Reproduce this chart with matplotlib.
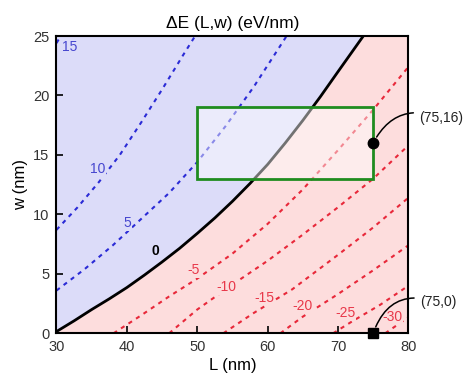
import matplotlib
matplotlib.use("Agg")
import matplotlib.pyplot as plt
from matplotlib.patches import Rectangle

plt.rcParams['font.family'] = ['Liberation Sans', 'DejaVu Sans']

# ---- data ----
# zero contour (boundary between positive / negative region)
zero_L = [30, 32.5, 35, 37.5, 40, 42.5, 45, 47.5, 50, 52.5, 55, 57.5, 60, 62.5, 65, 67.5, 70, 73.6]
zero_w = [0.15, 1.05, 2.0, 2.9, 3.85, 4.9, 6.0, 7.15, 8.4, 9.7, 11.1, 12.6, 14.2, 16.0, 17.9, 19.9, 22.0, 25]

# positive contours (blue)
c15_L = [30, 30.6]
c15_w = [24.4, 25]
c10_L = [30, 33, 36, 39, 42, 45, 48, 49.7]
c10_w = [8.7, 10.6, 12.7, 15.0, 17.7, 20.5, 23.4, 25]
c5_L = [30, 34, 38, 42, 46, 50, 54, 58, 62.7]
c5_w = [3.6, 5.4, 7.4, 9.6, 11.8, 14.4, 17.4, 20.7, 25]

# negative contours (red)
m5_L = [38.1, 42, 46, 50, 55, 60, 65, 70, 75, 80]
m5_w = [0, 1.5, 3.1, 4.6, 6.7, 9.2, 12.1, 15.4, 18.8, 22.4]
m10_L = [46, 50, 55, 60, 65, 70, 75, 80]
m10_w = [0, 2.0, 4.1, 6.1, 8.3, 10.6, 13.0, 15.8]
m15_L = [53.7, 58, 63.5, 70, 75, 80]
m15_w = [0, 1.7, 3.7, 6.6, 8.9, 11.4]
m20_L = [61.8, 65, 70, 75, 80]
m20_w = [0, 1.4, 3.3, 5.3, 7.4]
m25_L = [69.3, 72, 76, 80]
m25_w = [0, 1.0, 2.4, 4.0]
m30_L = [76.7, 80]
m30_w = [0, 1.35]

# contour labels: text, L, w
blue_labels = ["15", "10", "5"]
blue_lab_L = [31.9, 35.9, 40.1]
blue_lab_w = [24.05, 13.8, 9.25]
zero_label = "0"
zero_lab_L = 44.1
zero_lab_w = 6.9
red_labels = ["-5", "-10", "-15", "-20", "-25", "-30"]
red_lab_L = [49.5, 54.2, 59.6, 65.0, 71.0, 77.7]
red_lab_w = [5.3, 3.9, 3.0, 2.3, 1.7, 1.4]

# highlighted window
rect_L = [50, 75]
rect_w = [13, 19]

# marked points
pt_circle = (75, 16)
pt_square = (75, 0)

x_ticks = [30, 40, 50, 60, 70, 80]
y_ticks = [0, 5, 10, 15, 20, 25]

# ---- styles ----
blue_fill = '#dcdcf9'
pink_fill = '#fddddd'
blue_line = '#2b2bd6'
red_line = '#e8283a'
blue_txt = '#4646cf'
red_txt = '#e8384a'

fig = plt.figure(figsize=(4.63, 3.79), dpi=100)
ax = fig.add_axes([0.122, 0.1205, 0.760, 0.7845])
ax.set_facecolor(pink_fill)
ax.set_xlim(30, 80)
ax.set_ylim(0, 25)

ax.fill_between(zero_L, zero_w, 25, color=blue_fill, lw=0, zorder=1)

dash = (0, (2.0, 2.3))
for Ls, ws in [(c15_L, c15_w), (c10_L, c10_w), (c5_L, c5_w)]:
    ax.plot(Ls, ws, color=blue_line, lw=1.5, ls=dash, zorder=2)
for Ls, ws in [(m5_L, m5_w), (m10_L, m10_w), (m15_L, m15_w),
               (m20_L, m20_w), (m25_L, m25_w), (m30_L, m30_w)]:
    ax.plot(Ls, ws, color=red_line, lw=1.5, ls=dash, zorder=2)
ax.plot(zero_L, zero_w, color='black', lw=2.0, zorder=2.5)

for t, x, y in zip(blue_labels, blue_lab_L, blue_lab_w):
    ax.text(x, y, t, color=blue_txt, fontsize=10, ha='center', va='center', zorder=3,
            bbox=dict(boxstyle='square,pad=0.05', fc=blue_fill, ec='none'))
ax.text(zero_lab_L, zero_lab_w, zero_label, color='black', fontsize=10,
        fontweight='bold', ha='center', va='center', zorder=3)
for t, x, y in zip(red_labels, red_lab_L, red_lab_w):
    ax.text(x, y, t, color=red_txt, fontsize=10, ha='center', va='center', zorder=3,
            bbox=dict(boxstyle='square,pad=0.05', fc=pink_fill, ec='none'))

# highlighted rectangle (white translucent face, green edge)
ax.add_patch(Rectangle((rect_L[0], rect_w[0]), rect_L[1] - rect_L[0], rect_w[1] - rect_w[0],
                       fc='white', alpha=0.45, ec='none', zorder=4))
ax.add_patch(Rectangle((rect_L[0], rect_w[0]), rect_L[1] - rect_L[0], rect_w[1] - rect_w[0],
                       fc='none', ec='#1f8c1f', lw=2.0, zorder=5))

ax.plot([pt_circle[0]], [pt_circle[1]], 'o', color='black', ms=7.5, zorder=6, clip_on=False)
ax.plot([pt_square[0]], [pt_square[1]], 's', color='black', ms=7, zorder=6, clip_on=False)

ax.annotate('(75,16)', xy=pt_circle, xytext=(81.5, 18.1), fontsize=10, color='#222222',
            ha='left', va='center', annotation_clip=False,
            arrowprops=dict(arrowstyle='-', color='black', lw=1.1,
                            connectionstyle='arc3,rad=0.45', shrinkA=2, shrinkB=5))
ax.annotate('(75,0)', xy=pt_square, xytext=(81.6, 2.6), fontsize=10, color='#222222',
            ha='left', va='center', annotation_clip=False,
            arrowprops=dict(arrowstyle='-', color='black', lw=1.1,
                            connectionstyle='arc3,rad=0.5', shrinkA=2, shrinkB=5))

ax.set_xticks(x_ticks)
ax.set_yticks(y_ticks)
ax.tick_params(direction='in', length=5, width=1.2, labelsize=10.5, labelcolor='#333333', pad=5)
for s in ax.spines.values():
    s.set_linewidth(1.5)
    s.set_zorder(7)

ax.set_xlabel('L (nm)', fontsize=12, labelpad=3)
ax.set_ylabel('w (nm)', fontsize=12, labelpad=4)
ax.set_title('ΔE (L,w) (eV/nm)', fontsize=12.5, pad=6)

fig.savefig('out.png', dpi=100)
